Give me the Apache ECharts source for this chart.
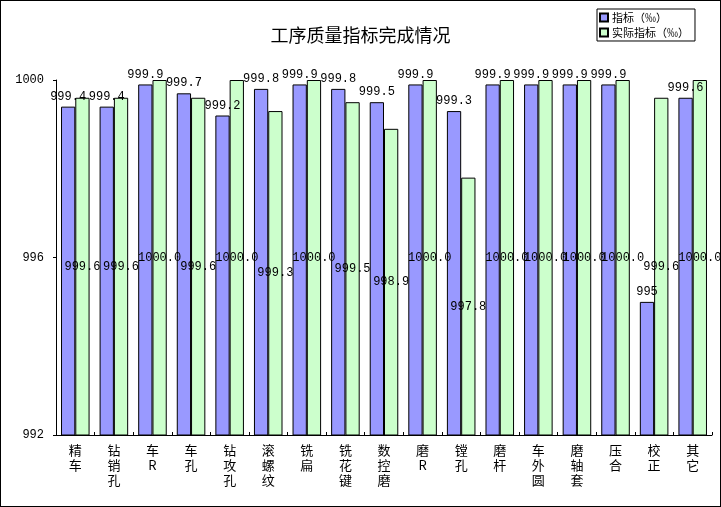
<!DOCTYPE html>
<html>
<head>
<meta charset="utf-8">
<title>工序质量指标完成情况</title>
<script src="https://cdn.jsdelivr.net/npm/echarts@6/dist/echarts.min.js"></script>
<style>
  html, body { margin: 0; padding: 0; background: #fff; }
  #main { width: 719px; height: 505px; border: 1px solid #000; }
</style>
</head>
<body>
<div id="main"></div>
<script type="text/javascript">
// 工序名称
var categories = ['精车', '钻销孔', '车R', '车孔', '钻攻孔', '滚螺纹', '铣扁', '铣花键', '数控磨',
                  '磨R', '镗孔', '磨杆', '车外圆', '磨轴套', '压合', '校正', '其它'];
// 指标（‰）
var target = [999.4, 999.4, 999.9, 999.7, 999.2, 999.8, 999.9, 999.8, 999.5,
              999.9, 999.3, 999.9, 999.9, 999.9, 999.9, 995, 999.6];
// 实际指标（‰）
var actual = [999.6, 999.6, 1000.0, 999.6, 1000.0, 999.3, 1000.0, 999.5, 998.9,
              1000.0, 997.8, 1000.0, 1000.0, 1000.0, 1000.0, 999.6, 1000.0];

var cjk = '"Noto Sans CJK SC", sans-serif';
var mono = '"Liberation Mono", "DejaVu Sans Mono", monospace';

var myChart = echarts.init(document.getElementById('main'));

var option = {
    animation: false,
    title: {
        text: '工序质量指标完成情况',
        left: 'center',
        top: 20,
        textStyle: { fontFamily: cjk, fontSize: 18, fontWeight: 'normal', color: '#000' }
    },
    legend: {
        orient: 'vertical',
        left: 596,
        top: 8,
        width: 94,
        padding: [3, 6, 3, 2],
        itemGap: 4,
        itemWidth: 8,
        itemHeight: 8,
        borderColor: '#000',
        borderWidth: 1,
        borderRadius: 0,
        icon: 'rect',
        textStyle: { fontFamily: cjk, fontSize: 11, color: '#000', padding: [0, 0, 0, -1] },
        data: ['指标（‰）', '实际指标（‰）']
    },
    grid: { left: 55, right: 8, top: 79, bottom: 71 },
    xAxis: {
        type: 'category',
        data: categories,
        axisLine: { lineStyle: { color: '#000' } },
        axisTick: { show: true, length: 3, inside: true, lineStyle: { color: '#000' } },
        axisLabel: {
            interval: 0,
            margin: 8,
            fontFamily: cjk,
            fontSize: 13,
            lineHeight: 15,
            color: '#000',
            formatter: function (v) { return v.split('').join('\n'); }
        }
    },
    yAxis: {
        type: 'value',
        min: 992,
        max: 1000,
        interval: 4,
        splitLine: { show: false },
        axisLine: { show: true, lineStyle: { color: '#000' } },
        axisTick: { show: true, length: 3, lineStyle: { color: '#000' } },
        axisLabel: {
            fontFamily: mono,
            fontSize: 12,
            color: '#000',
            margin: 12,
            formatter: function (v) { return String(v); }
        }
    },
    series: [
        {
            name: '指标（‰）',
            type: 'bar',
            data: target,
            barGap: '0%',
            barCategoryGap: '26%',
            itemStyle: { color: '#9999FF', borderColor: '#000', borderWidth: 1 },
            label: {
                show: true,
                position: 'top',
                distance: 4,
                fontFamily: mono,
                fontSize: 12,
                color: '#000',
                formatter: function (p) { return String(p.value); }
            }
        },
        {
            name: '实际指标（‰）',
            type: 'bar',
            data: actual,
            itemStyle: { color: '#CCFFCC', borderColor: '#000', borderWidth: 1 },
            label: {
                show: true,
                position: 'inside',
                fontFamily: mono,
                fontSize: 12,
                color: '#000',
                formatter: function (p) { return p.value.toFixed(1); }
            }
        }
    ]
};

myChart.setOption(option);
</script>
</body>
</html>
